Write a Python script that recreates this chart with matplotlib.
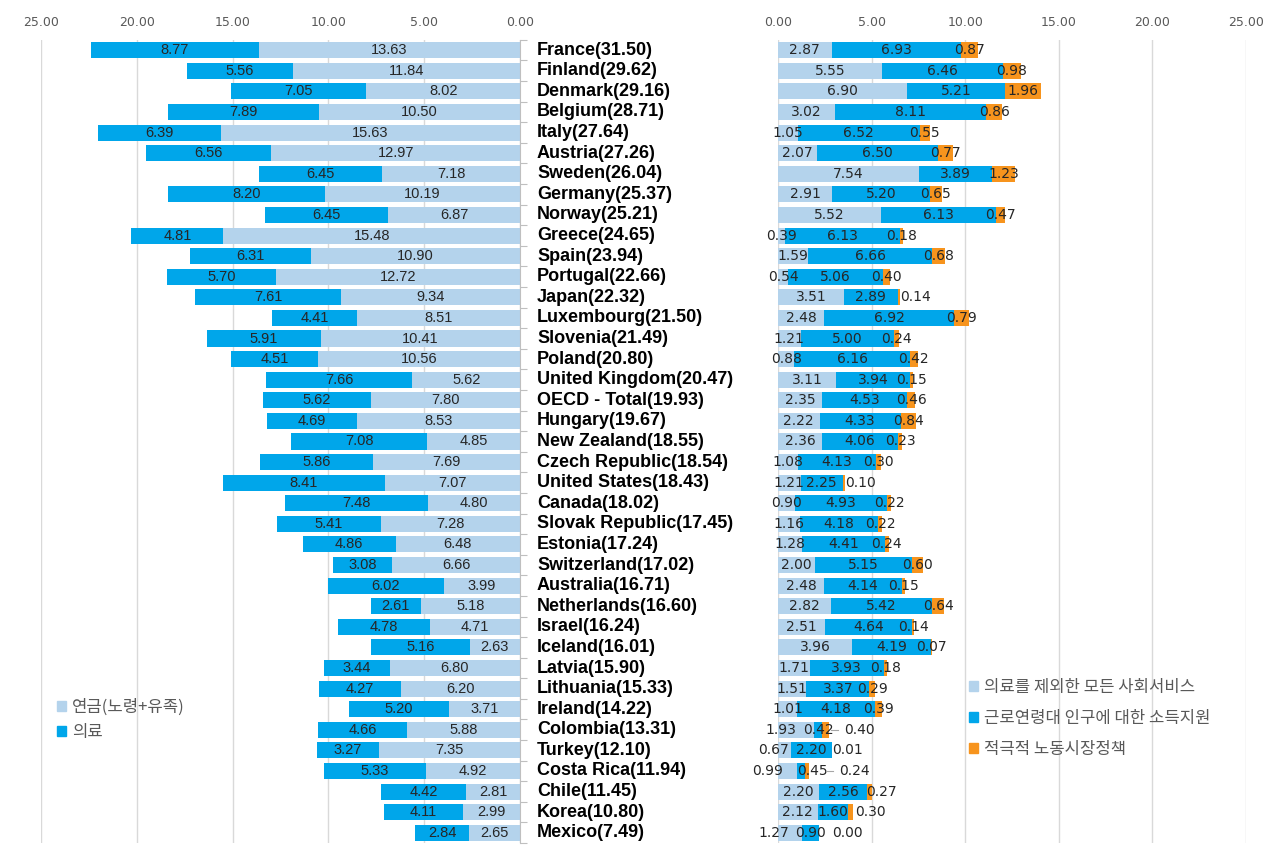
import matplotlib
matplotlib.use('Agg')
import matplotlib.pyplot as plt
import matplotlib.transforms as mtransforms
from matplotlib.patches import Patch
import numpy as np

plt.rcParams['font.family'] = ['DejaVu Sans', 'Noto Sans CJK KR']

# country labels (total in brackets)
countries = ['France(31.50)', 'Finland(29.62)', 'Denmark(29.16)', 'Belgium(28.71)', 'Italy(27.64)',
             'Austria(27.26)', 'Sweden(26.04)', 'Germany(25.37)', 'Norway(25.21)', 'Greece(24.65)',
             'Spain(23.94)', 'Portugal(22.66)', 'Japan(22.32)', 'Luxembourg(21.50)', 'Slovenia(21.49)',
             'Poland(20.80)', 'United Kingdom(20.47)', 'OECD - Total(19.93)', 'Hungary(19.67)',
             'New Zealand(18.55)', 'Czech Republic(18.54)', 'United States(18.43)', 'Canada(18.02)',
             'Slovak Republic(17.45)', 'Estonia(17.24)', 'Switzerland(17.02)', 'Australia(16.71)',
             'Netherlands(16.60)', 'Israel(16.24)', 'Iceland(16.01)', 'Latvia(15.90)', 'Lithuania(15.33)',
             'Ireland(14.22)', 'Colombia(13.31)', 'Turkey(12.10)', 'Costa Rica(11.94)', 'Chile(11.45)',
             'Korea(10.80)', 'Mexico(7.49)']

# left panel: pension (old age + survivors), health
pension = [13.63, 11.84, 8.02, 10.50, 15.63, 12.97, 7.18, 10.19, 6.87, 15.48, 10.90, 12.72, 9.34,
           8.51, 10.41, 10.56, 5.62, 7.80, 8.53, 4.85, 7.69, 7.07, 4.80, 7.28, 6.48, 6.66, 3.99,
           5.18, 4.71, 2.63, 6.80, 6.20, 3.71, 5.88, 7.35, 4.92, 2.81, 2.99, 2.65]
health = [8.77, 5.56, 7.05, 7.89, 6.39, 6.56, 6.45, 8.20, 6.45, 4.81, 6.31, 5.70, 7.61, 4.41, 5.91,
          4.51, 7.66, 5.62, 4.69, 7.08, 5.86, 8.41, 7.48, 5.41, 4.86, 3.08, 6.02, 2.61, 4.78, 5.16,
          3.44, 4.27, 5.20, 4.66, 3.27, 5.33, 4.42, 4.11, 2.84]

# right panel: social services excl. health, income support for working age, ALMP
services = [2.87, 5.55, 6.90, 3.02, 1.05, 2.07, 7.54, 2.91, 5.52, 0.39, 1.59, 0.54, 3.51, 2.48,
            1.21, 0.88, 3.11, 2.35, 2.22, 2.36, 1.08, 1.21, 0.90, 1.16, 1.28, 2.00, 2.48, 2.82,
            2.51, 3.96, 1.71, 1.51, 1.01, 1.93, 0.67, 0.99, 2.20, 2.12, 1.27]
income = [6.93, 6.46, 5.21, 8.11, 6.52, 6.50, 3.89, 5.20, 6.13, 6.13, 6.66, 5.06, 2.89, 6.92, 5.00,
          6.16, 3.94, 4.53, 4.33, 4.06, 4.13, 2.25, 4.93, 4.18, 4.41, 5.15, 4.14, 5.42, 4.64, 4.19,
          3.93, 3.37, 4.18, 0.42, 2.20, 0.45, 2.56, 1.60, 0.90]
almp = [0.87, 0.98, 1.96, 0.86, 0.55, 0.77, 1.23, 0.65, 0.47, 0.18, 0.68, 0.40, 0.14, 0.79, 0.24,
        0.42, 0.15, 0.46, 0.84, 0.23, 0.30, 0.10, 0.22, 0.22, 0.24, 0.60, 0.15, 0.64, 0.14, 0.07,
        0.18, 0.29, 0.39, 0.40, 0.01, 0.24, 0.27, 0.30, 0.00]

# label nudges for crowded bars (in data units), as placed in the original
services_nudge = {'Colombia': -0.8, 'Turkey': -0.55, 'Costa Rica': -1.05, 'Mexico': -0.85}
income_nudge = {'Costa Rica': 0.6}
almp_after_end = {'Japan': 0.0, 'United States': 0.0, 'Turkey': 0.0, 'Chile': -0.3,
                  'Korea': 0.1, 'Mexico': 0.7}
almp_leader = {'Colombia': 0.78, 'Costa Rica': 1.6}

c_light = '#b4d3ec'
c_blue = '#00a6ea'
c_orange = '#f7941d'
c_grid = '#d9d9d9'
c_tick = '#595959'
c_text = '#262626'
narrow = ['Liberation Sans', 'DejaVu Sans']

fig = plt.figure(figsize=(12.8, 8.49), dpi=100)
ax1 = fig.add_axes([41/1280, 0.007, 479/1280, 0.946])
ax2 = fig.add_axes([778/1280, 0.007, 468/1280, 0.946])

y = np.arange(len(countries))
names = [c.split('(')[0] for c in countries]
pension = np.array(pension)
health = np.array(health)
services = np.array(services)
income = np.array(income)
almp = np.array(almp)
bh = 0.78

# ---- left panel
ax1.barh(y, pension, height=bh, color=c_light, zorder=2)
ax1.barh(y, health, left=pension, height=bh, color=c_blue, zorder=2)
for i in y:
    ax1.text(pension[i] / 2, i, f'{pension[i]:.2f}', ha='center', va='center',
             fontsize=10.5, color=c_text, family=narrow, zorder=3)
    ax1.text(pension[i] + health[i] / 2, i, f'{health[i]:.2f}', ha='center', va='center',
             fontsize=10.5, color=c_text, family=narrow, zorder=3)
ax1.set_xlim(25, 0)
ax1.set_ylim(len(countries) - 0.5, -0.5)
ax1.set_xticks(np.arange(0, 26, 5))
ax1.set_xticklabels([f'{v:.2f}' for v in np.arange(0, 26, 5)])
ax1.xaxis.tick_top()
ax1.tick_params(axis='x', length=0, labelsize=9, colors=c_tick, pad=8)
ax1.grid(axis='x', color=c_grid, linewidth=1, zorder=0)
for s in ['top', 'left', 'bottom']:
    ax1.spines[s].set_visible(False)
ax1.spines['right'].set_color('#bfbfbf')
ax1.yaxis.tick_right()
ax1.set_yticks(np.arange(-0.5, len(countries), 1))
ax1.set_yticklabels([])
ax1.tick_params(axis='y', length=5, color='#bfbfbf', direction='out')

# country names in the middle
tr = mtransforms.blended_transform_factory(fig.transFigure, ax1.transData)
for i, name in enumerate(countries):
    ax1.text(537/1280, i, name, transform=tr, ha='left', va='center', fontsize=13,
             fontweight='bold', color='black', family=narrow)

ax1.legend(handles=[Patch(color=c_light, label='연금(노령+유족)'), Patch(color=c_blue, label='의료')],
           loc='upper left', bbox_to_anchor=(50/1280, 1 - 692/849), bbox_transform=fig.transFigure,
           borderaxespad=0, frameon=False, handlelength=0.55, handleheight=0.55, handletextpad=0.35,
           labelspacing=0.5, prop={'family': ['Noto Sans CJK KR'], 'size': 12}, labelcolor=c_tick)

# ---- right panel
ax2.barh(y, services, height=bh, color=c_light, zorder=2)
ax2.barh(y, income, left=services, height=bh, color=c_blue, zorder=2)
ax2.barh(y, almp, left=services + income, height=bh, color=c_orange, zorder=2)
lab = dict(va='center', fontsize=10, color=c_text, zorder=3, clip_on=False)
for i in y:
    n = names[i]
    ax2.text(services[i] / 2 + services_nudge.get(n, 0), i, f'{services[i]:.2f}', ha='center', **lab)
    ax2.text(services[i] + income[i] / 2 + income_nudge.get(n, 0), i, f'{income[i]:.2f}',
             ha='center', **lab)
    end = services[i] + income[i] + almp[i]
    if n in almp_after_end:
        ax2.text(end + almp_after_end[n], i, f'{almp[i]:.2f}', ha='left', **lab)
    elif n in almp_leader:
        tx = end + almp_leader[n]
        ax2.plot([tx - 0.72, tx - 0.32], [i, i], color='#a6a6a6', lw=0.8, zorder=3)
        ax2.text(tx, i, f'{almp[i]:.2f}', ha='left', **lab)
    else:
        ax2.text(end - almp[i] / 2, i, f'{almp[i]:.2f}', ha='center', **lab)
ax2.set_xlim(0, 25)
ax2.set_ylim(len(countries) - 0.5, -0.5)
ax2.set_xticks(np.arange(0, 26, 5))
ax2.set_xticklabels([f'{v:.2f}' for v in np.arange(0, 26, 5)])
ax2.xaxis.tick_top()
ax2.tick_params(axis='x', length=0, labelsize=9, colors=c_tick, pad=8)
ax2.grid(axis='x', color=c_grid, linewidth=1, zorder=0)
for s in ax2.spines.values():
    s.set_visible(False)
ax2.set_yticks([])

ax2.legend(handles=[Patch(color=c_light, label='의료를 제외한 모든 사회서비스'),
                    Patch(color=c_blue, label='근로연령대 인구에 대한 소득지원'),
                    Patch(color=c_orange, label='적극적 노동시장정책')],
           loc='upper left', bbox_to_anchor=(962/1280, 1 - 672/849), bbox_transform=fig.transFigure,
           borderaxespad=0, frameon=False, handlelength=0.55, handleheight=0.55, handletextpad=0.4,
           labelspacing=0.86, prop={'family': ['Noto Sans CJK KR'], 'size': 12}, labelcolor=c_tick)

fig.savefig('out.png', dpi=100, facecolor='white')
